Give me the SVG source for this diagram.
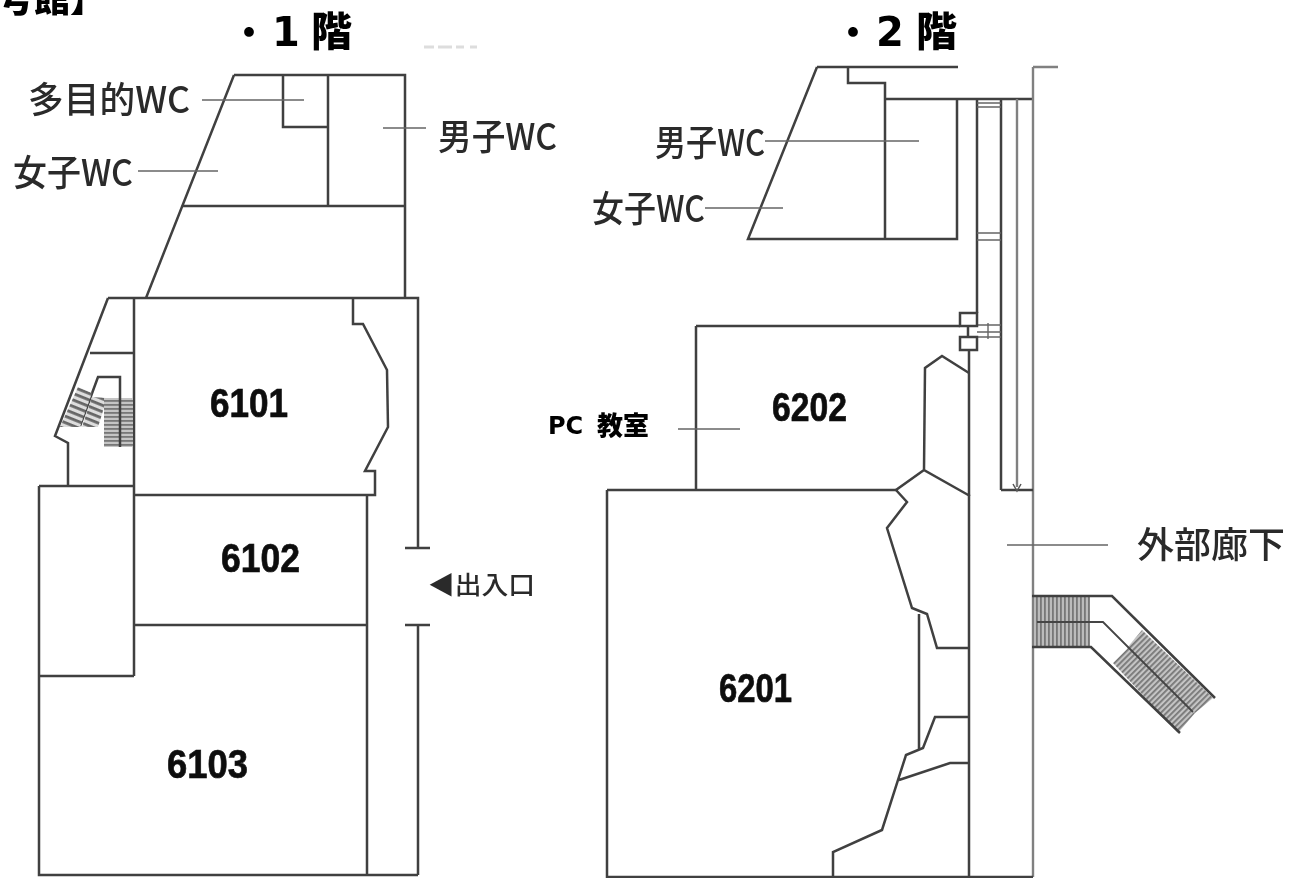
<svg xmlns="http://www.w3.org/2000/svg" width="1304" height="878" viewBox="0 0 1304 878">
<style>
.w{fill:none;stroke:#404040;stroke-width:2.5;stroke-linejoin:miter}
.g{fill:none;stroke:#808080;stroke-width:2.4}
.t{fill:none;stroke:#666;stroke-width:1.4}
.l{font-family:"Noto Sans CJK JP","Liberation Sans",sans-serif;fill:#2a2a2a;font-size:36px;font-weight:500}
.n{font-family:"Liberation Sans",Arial,sans-serif;font-weight:700;fill:#111;font-size:40px;stroke:#111;stroke-width:.7}
.h{font-family:"DejaVu Sans","Noto Sans CJK JP",sans-serif;font-weight:700;fill:#000;font-size:38px}
.c{font-family:"Noto Sans CJK JP",sans-serif;font-weight:900}
</style>
<defs>
<filter id="b" x="-5%" y="-5%" width="110%" height="110%"><feGaussianBlur stdDeviation="0.55"/></filter>
<pattern id="v" width="4" height="4" patternUnits="userSpaceOnUse"><rect width="4" height="4" fill="#bbb"/><rect width="1.8" height="4" fill="#777"/></pattern>
<pattern id="hz" width="4" height="4" patternUnits="userSpaceOnUse"><rect width="4" height="4" fill="#c4c4c4"/><rect width="4" height="1.8" fill="#777"/></pattern>
<pattern id="d" width="4" height="4" patternUnits="userSpaceOnUse" patternTransform="rotate(-45)"><rect width="4" height="4" fill="#c4c4c4"/><rect width="4" height="1.8" fill="#777"/></pattern>
<pattern id="s" width="4" height="6" patternUnits="userSpaceOnUse" patternTransform="rotate(22)"><rect width="4" height="6" fill="#ddd"/><rect width="4" height="2.8" fill="#666"/></pattern>
</defs>
<rect width="1304" height="878" fill="#fff"/>
<g id="floor1" filter="url(#b)">
<path class="w" d="M234 75H405V298M234 75L146 298M283 75V127H328M328 75V206M183 206H405"/>
<path class="w" d="M108 298H418V548M418 625V875M108 298L55 436L68 443V486M39 486H134M134 298V676M39 486V875H418M39 676H134M134 495H375V471H365L388 427L387 370L363 324H353V298M367 495V875M134 625H367M405 548H430M405 625H430M90 353H134"/>
<path class="w" d="M80 426L98 377H120V447"/>
<polygon points="78,387 92,393 80,427 60,427" fill="url(#s)"/>
<polygon points="92,397 107,398 98,427 82,427" fill="url(#s)"/>
<rect x="104" y="398" width="29" height="49" fill="url(#hz)"/>
<path class="w" d="M120 398V447"/>
<path d="M424 47h10M438 47h14M456 47h8M470 47h7" stroke="#ddd" stroke-width="3" fill="none"/>
</g>
<g id="floor2" filter="url(#b)">
<path class="w" d="M817 67H958M817 67L748 239H957V99M885 99V239M848 67V83H885V99M885 99H1033M977 99V313M1001 99V490"/>
<path class="g" d="M1017 99V487M1033 67V877M1033 67H1058"/>
<path class="t" d="M977 103H1001M977 107H1001M977 233H1001M977 240H1001M977 325H1001M977 332H1001M977 337H1001M988 323V339"/>
<rect class="w" x="960" y="313" width="17" height="13"/>
<rect class="w" x="960" y="337" width="17" height="13"/>
<path class="w" d="M968 326V337M969 350V877M696 326H960M696 326V490M607 490H896M607 490V877H1033"/>
<path class="w" d="M1001 490H1033M969 373L942 356L925 368L924 470L970 496M924 470L896 490L907 502L887 528L912 608L927 614L937 648H969M919 614V750M969 717H935L923 748L906 755L882 830L833 852V877M899 780L950 763H969"/>
<path d="M1013 484L1017 491L1021 484" fill="none" stroke="#555" stroke-width="1.5"/>
<rect x="1034" y="596" width="56" height="51" fill="url(#v)"/>
<polygon points="1142,630 1213,698 1195,713 1127,648" fill="url(#d)"/>
<polygon points="1128,648 1195,713 1178,733 1113,663" fill="url(#d)"/>
<path class="w" d="M1032 596H1112L1215 698M1032 647H1091L1180 733"/>
<path d="M1037 622H1103L1193 712" fill="none" stroke="#444" stroke-width="1.8"/>
</g>
<g id="leaders" filter="url(#b)">
<path class="t" d="M202 100H304M138 171H218M383 128H426M765 141H919M705 208H783M678 429H740M1007 545H1108"/>
</g>
<g id="labels" filter="url(#b)">
<text class="c" x="-2" y="12" font-size="36">号館】</text>
<text class="h" x="230" y="46">・</text>
<text class="h" x="272" y="46" style="font-size:40px">1</text>
<text class="c" x="311" y="46" font-size="41">階</text>
<text class="h" x="834" y="46">・</text>
<text class="h" x="876" y="46" style="font-size:40px">2</text>
<text class="c" x="916" y="46" font-size="41">階</text>
<text class="l" x="28" y="113" textLength="162" lengthAdjust="spacingAndGlyphs">多目的WC</text>
<text class="l" x="13" y="186" textLength="120" lengthAdjust="spacingAndGlyphs">女子WC</text>
<text class="l" x="438" y="150" textLength="119" lengthAdjust="spacingAndGlyphs">男子WC</text>
<text class="l" x="655" y="156" textLength="110" lengthAdjust="spacingAndGlyphs">男子WC</text>
<text class="l" x="592" y="222" textLength="113" lengthAdjust="spacingAndGlyphs">女子WC</text>
<text class="l" x="1137" y="558" textLength="148" lengthAdjust="spacingAndGlyphs">外部廊下</text>
<text class="l" x="428" y="594" style="font-size:25px" textLength="107" lengthAdjust="spacingAndGlyphs">◀出入口</text>
<text class="h" x="548" y="434" style="font-size:24px">PC</text>
<text class="c" x="597" y="435" font-size="26">教室</text>
<text class="n" x="210" y="417" textLength="78" lengthAdjust="spacingAndGlyphs">6101</text>
<text class="n" x="221" y="572" textLength="79" lengthAdjust="spacingAndGlyphs">6102</text>
<text class="n" x="167" y="778" textLength="81" lengthAdjust="spacingAndGlyphs">6103</text>
<text class="n" x="719" y="702" textLength="73" lengthAdjust="spacingAndGlyphs">6201</text>
<text class="n" x="772" y="421" textLength="75" lengthAdjust="spacingAndGlyphs">6202</text>
</g>
</svg>
